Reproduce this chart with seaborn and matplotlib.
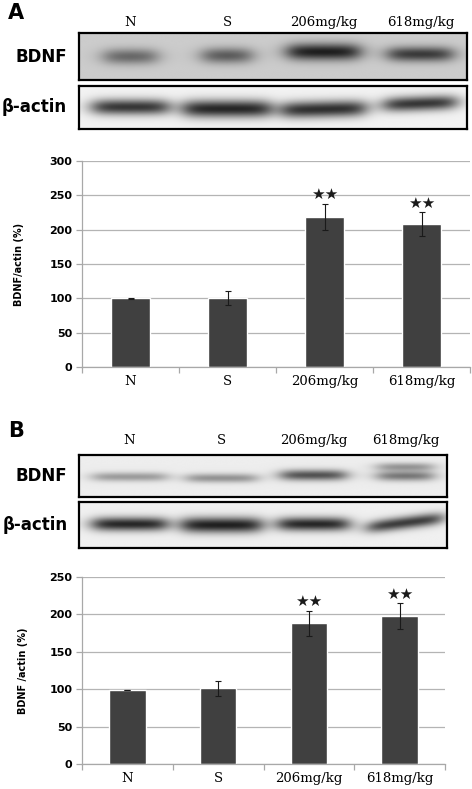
import numpy as np
import pandas as pd
import matplotlib
matplotlib.use('Agg')
import matplotlib.pyplot as plt
import seaborn as sns

# data
groups = ['N', 'S', '206mg/kg', '618mg/kg']
signif = ['', '', '★★', '★★']

# panel A: BDNF/actin (%) mean and error
bdnf_a = [100, 100, 219, 208]
err_a = [0.5, 10, 19, 17]
# panel B
bdnf_b = [99, 101, 188, 198]
err_b = [0.5, 10, 17, 17]

# relative band darkness read from the blots (0 = none, 1 = black)
band_a_bdnf = [0.55, 0.62, 0.95, 0.80]
band_a_actin = [0.85, 0.92, 0.88, 0.85]
band_b_bdnf = [0.38, 0.42, 0.72, 0.55]
band_b_actin = [0.92, 0.95, 0.92, 0.82]

sns.set_theme(style='white')
plt.rcParams['font.family'] = ['DejaVu Sans']
plt.rcParams['text.color'] = 'black'
plt.rcParams['xtick.labelcolor'] = 'black'
plt.rcParams['ytick.labelcolor'] = 'black'
plt.rcParams['axes.labelcolor'] = 'black'

fig = plt.figure(figsize=(4.72, 7.89), dpi=100)
W, H = 472, 789


def box(x0, y0, x1, y1):
    # pixel box -> figure fraction
    return [x0 / W, 1 - y1 / H, (x1 - x0) / W, (y1 - y0) / H]


def draw_blot(ax, dark, bg, xlim, yc, thick, half, tilt=None, extra=None):
    xs = np.linspace(xlim[0], xlim[1], 500)
    ys = np.linspace(0, 1, 120)
    X, Y = np.meshgrid(xs, ys)
    img = np.zeros_like(X)
    for i, d in enumerate(dark):
        hw = half[i]
        c = yc[i] + (0 if tilt is None else tilt[i] * (X - i))
        px = 1 / (1 + np.exp((np.abs(X - i) - hw) / 0.06))
        py = np.exp(-((Y - c) / thick[i]) ** 2)
        img += d * px * py
    if extra is not None:
        i, d, c, t, hw = extra
        px = 1 / (1 + np.exp((np.abs(X - i) - hw) / 0.06))
        img += d * px * np.exp(-((Y - c) / t) ** 2)
    img = np.clip(img, 0, 1)
    gray = bg - img * (bg - 0.08)
    ax.imshow(gray, cmap='gray', vmin=0, vmax=1, aspect='auto',
              extent=[xlim[0], xlim[1], 0, 1], origin='lower',
              interpolation='bilinear')
    ax.set_xlim(*xlim)
    ax.set_ylim(0, 1)
    ax.set_yticks([])
    for s in ax.spines.values():
        s.set_color('black')
        s.set_linewidth(1.6)


def blot_labels(ax, name, top_labels, pad):
    ax.text(-0.031, 0.5, name, transform=ax.transAxes, ha='right', va='center',
            fontsize=12, fontweight='bold', color='black')
    if top_labels:
        ax.xaxis.tick_top()
        ax.set_xticks(range(len(groups)))
        ax.set_xticklabels(groups, fontfamily='DejaVu Serif', fontsize=9.5)
        ax.tick_params(axis='x', length=0, pad=pad)
    else:
        ax.set_xticks([])


def draw_bars(ax, vals, errs, ymax, ylabel, lab_x):
    df = pd.DataFrame({'group': groups, 'value': vals})
    sns.barplot(data=df, x='group', y='value', color='#404040', saturation=1,
                width=0.4, ax=ax, errorbar=None)
    ax.errorbar(x=np.arange(len(groups)), y=vals, yerr=errs, fmt='none',
                ecolor='#1a1a1a', elinewidth=0.8, capsize=2.2, capthick=0.8)
    for i, (v, e, s) in enumerate(zip(vals, errs, signif)):
        ax.annotate(s, xy=(i, v + e), xytext=(0, 1), textcoords='offset points',
                    ha='center', va='bottom', fontsize=11, color='#1a1a1a')
    ax.set_xlim(-0.5, 3.5)
    ax.set_ylim(0, ymax)
    ax.set_yticks(np.arange(0, ymax + 1, 50))
    ax.yaxis.grid(True, color='#b4b4b4', lw=0.9)
    ax.set_axisbelow(True)
    for s in ['top', 'right']:
        ax.spines[s].set_visible(False)
    for s in ['left', 'bottom']:
        ax.spines[s].set_color('#a8a8a8')
        ax.spines[s].set_linewidth(0.9)
    ax.set_xticks(np.arange(-0.5, 4, 1), minor=True)
    ax.tick_params(axis='x', which='major', length=0, pad=6)
    ax.tick_params(axis='x', which='minor', length=4, width=0.9, color='#a8a8a8',
                   direction='out', bottom=True)
    ax.tick_params(axis='y', length=4, width=0.9, color='#a8a8a8',
                   direction='out', left=True, pad=3)
    for t in ax.get_xticklabels():
        t.set_fontfamily('DejaVu Serif')
        t.set_fontsize(9.5)
    for t in ax.get_yticklabels():
        t.set_fontweight('bold')
        t.set_fontsize(8)
    ax.set_xlabel('')
    ax.set_ylabel(ylabel, fontsize=7, fontweight='bold')
    ax.yaxis.set_label_coords(lab_x, 0.5)


# ---------- panel A ----------
fig.text(8 / W, 1 - 3 / H, 'A', fontsize=15, fontweight='bold', va='top')
xl_a = (-0.53, 3.48)
ax1 = fig.add_axes(box(79, 33, 467, 80))
draw_blot(ax1, band_a_bdnf, 0.8, xl_a, yc=[0.5, 0.52, 0.6, 0.55],
          thick=[0.17, 0.17, 0.18, 0.16], half=[0.27, 0.25, 0.37, 0.33])
blot_labels(ax1, 'BDNF', True, 3)

ax2 = fig.add_axes(box(79, 86, 467, 129))
draw_blot(ax2, band_a_actin, 0.95, xl_a, yc=[0.5, 0.46, 0.45, 0.58],
          thick=[0.18, 0.2, 0.19, 0.17], half=[0.39, 0.45, 0.43, 0.37],
          tilt=[0, 0, 0.05, 0.08])
blot_labels(ax2, 'β-actin', False, 0)

ax3 = fig.add_axes(box(82, 161, 470, 367))
draw_bars(ax3, bdnf_a, err_a, 300, 'BDNF/actin (%)', (24 - 82) / 388)

# ---------- panel B ----------
fig.text(8 / W, 1 - 421 / H, 'B', fontsize=15, fontweight='bold', va='top')
xl_b = (-0.55, 3.45)
ax4 = fig.add_axes(box(79, 455, 447, 497))
draw_blot(ax4, band_b_bdnf, 0.93, xl_b, yc=[0.48, 0.45, 0.52, 0.5],
          thick=[0.11, 0.11, 0.13, 0.12], half=[0.4, 0.38, 0.35, 0.3],
          extra=(3, 0.4, 0.72, 0.1, 0.3))
blot_labels(ax4, 'BDNF', True, 6)

ax5 = fig.add_axes(box(79, 502, 447, 548))
draw_blot(ax5, band_b_actin, 0.94, xl_b, yc=[0.52, 0.5, 0.52, 0.55],
          thick=[0.15, 0.17, 0.15, 0.14], half=[0.4, 0.43, 0.38, 0.4],
          tilt=[0, 0, 0, 0.25])
blot_labels(ax5, 'β-actin', False, 0)

ax6 = fig.add_axes(box(82, 577, 445, 764))
draw_bars(ax6, bdnf_b, err_b, 250, 'BDNF /actin (%)', (28 - 82) / 363)

fig.savefig('out.png', dpi=100, facecolor='white')
